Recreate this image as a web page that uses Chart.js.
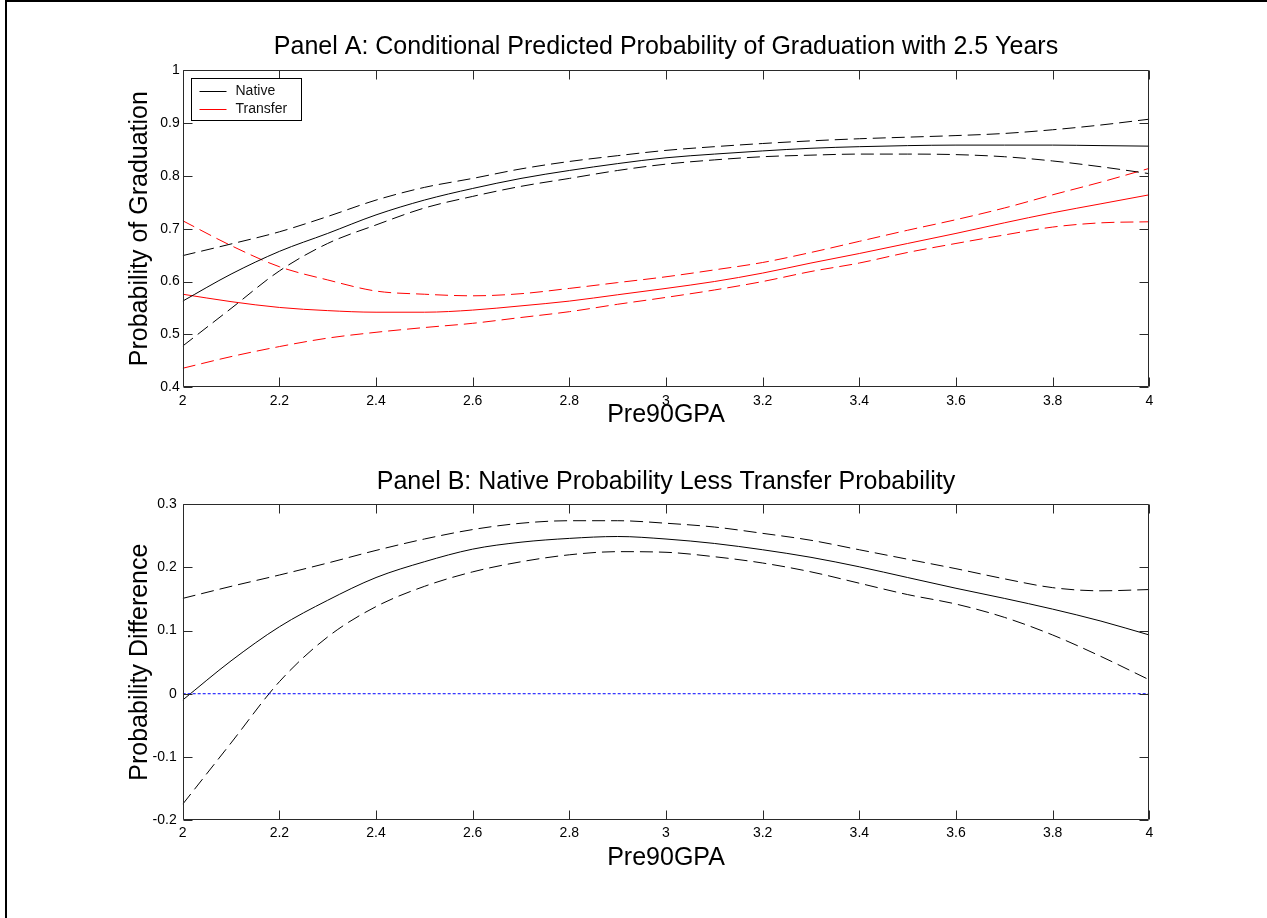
<!DOCTYPE html>
<html>
<head>
<meta charset="utf-8">
<title>Predicted Probability of Graduation</title>
<script src="https://cdn.jsdelivr.net/npm/chart.js@4.4.1/dist/chart.umd.min.js"></script>
<style>
  html, body { margin: 0; padding: 0; background: #fff; }
  body { width: 1267px; height: 918px; position: relative; overflow: hidden; }
  .frame { position: absolute; left: 5px; top: 0; width: 1300px; height: 1000px;
           border-left: 2px solid #000; border-top: 2px solid #000; }
  canvas { position: absolute; left: 0; }
  #panelA { top: 0; }
  #panelB { top: 450px; }
</style>
</head>
<body>
<div class="frame"></div>
<canvas id="panelA" width="1267" height="450"></canvas>
<canvas id="panelB" width="1267" height="468"></canvas>
<script>
// Pre90GPA grid the curves were read at
const gpa = [2.0, 2.1, 2.2, 2.3, 2.4, 2.5, 2.6, 2.7, 2.8, 2.9, 3.0, 3.1, 3.2, 3.3, 3.4, 3.5, 3.6, 3.7, 3.8, 3.9, 4.0];

// Panel A: native students
const nativeMean  = [0.563, 0.614, 0.657, 0.691, 0.726, 0.754, 0.776, 0.795, 0.810, 0.823, 0.834, 0.841, 0.847, 0.852, 0.855, 0.857, 0.858, 0.858, 0.858, 0.857, 0.856];
const nativeUpper = [0.649, 0.671, 0.694, 0.723, 0.754, 0.778, 0.795, 0.813, 0.827, 0.838, 0.848, 0.855, 0.861, 0.866, 0.870, 0.873, 0.876, 0.880, 0.887, 0.896, 0.907];
const nativeLower = [0.478, 0.549, 0.620, 0.672, 0.707, 0.739, 0.761, 0.780, 0.795, 0.810, 0.822, 0.830, 0.836, 0.839, 0.841, 0.841, 0.840, 0.836, 0.828, 0.817, 0.804];

// Panel A: transfer students
const transferMean  = [0.576, 0.562, 0.551, 0.545, 0.542, 0.542, 0.546, 0.554, 0.563, 0.575, 0.587, 0.600, 0.616, 0.635, 0.653, 0.672, 0.691, 0.711, 0.730, 0.747, 0.764];
const transferUpper = [0.715, 0.668, 0.628, 0.603, 0.582, 0.576, 0.573, 0.577, 0.587, 0.598, 0.609, 0.622, 0.636, 0.655, 0.676, 0.697, 0.717, 0.739, 0.764, 0.788, 0.814];
const transferLower = [0.436, 0.458, 0.477, 0.493, 0.504, 0.513, 0.521, 0.532, 0.543, 0.557, 0.570, 0.584, 0.600, 0.619, 0.635, 0.655, 0.672, 0.688, 0.703, 0.711, 0.713];

// Panel B: native less transfer
const diffMean  = [-0.010, 0.052, 0.106, 0.148, 0.184, 0.209, 0.229, 0.240, 0.246, 0.249, 0.245, 0.238, 0.228, 0.216, 0.201, 0.184, 0.167, 0.151, 0.134, 0.115, 0.093];
const diffUpper = [0.151, 0.170, 0.188, 0.207, 0.227, 0.245, 0.260, 0.270, 0.274, 0.274, 0.270, 0.264, 0.254, 0.243, 0.228, 0.213, 0.198, 0.182, 0.168, 0.163, 0.165];
const diffLower = [-0.175, -0.078, 0.019, 0.090, 0.138, 0.170, 0.193, 0.209, 0.220, 0.225, 0.224, 0.217, 0.207, 0.193, 0.175, 0.157, 0.142, 0.121, 0.093, 0.059, 0.022];
const zeroGpa  = [2.0, 4.0];
const zeroLine = [0, 0];

// tick labels
const xTicks  = [2, 2.2, 2.4, 2.6, 2.8, 3, 3.2, 3.4, 3.6, 3.8, 4];
const yTicksA = [0.4, 0.5, 0.6, 0.7, 0.8, 0.9, 1];
const yTicksB = [-0.2, -0.1, 0, 0.1, 0.2, 0.3];

const FONT = 'Arial, "Liberation Sans", Helvetica, sans-serif';
const DASH = [13, 6];

Chart.defaults.font.family = FONT;
Chart.defaults.color = '#111';

function pts(xs, ys) {
    return xs.map((x, i) => ({ x: x, y: ys[i] }));
}

function line(label, xs, ys, color, dashed) {
    return {
        label: label,
        data: pts(xs, ys),
        borderColor: color,
        backgroundColor: color,
        borderWidth: 1,
        borderDash: dashed ? DASH : [],
        pointRadius: 0,
        cubicInterpolationMode: 'monotone',
        fill: false
    };
}

// box round the plot with inward ticks on all four sides, MATLAB style
const boxAxes = {
    id: 'boxAxes',
    afterDatasetsDraw(chart) {
        const { ctx, chartArea: a, scales: { x, y } } = chart;
        const L = Math.round(a.left) + 0.5, R = Math.round(a.right) - 0.5;
        const T = Math.round(a.top) + 0.5, B = Math.round(a.bottom) - 0.5;
        const len = 9;
        ctx.save();
        ctx.strokeStyle = '#2a2a2a';
        ctx.lineWidth = 1;
        ctx.beginPath();
        ctx.rect(L, T, R - L, B - T);
        x.ticks.forEach(t => {
            const px = Math.round(x.getPixelForValue(t.value)) + 0.5;
            ctx.moveTo(px, B); ctx.lineTo(px, B - len);
            ctx.moveTo(px, T); ctx.lineTo(px, T + len);
        });
        y.ticks.forEach(t => {
            const py = Math.round(y.getPixelForValue(t.value)) + 0.5;
            ctx.moveTo(L, py); ctx.lineTo(L + len, py);
            ctx.moveTo(R, py); ctx.lineTo(R - len, py);
        });
        ctx.stroke();
        ctx.restore();
    }
};

// small legend box in the top-left corner of panel A
const cornerLegend = {
    id: 'cornerLegend',
    afterDraw(chart) {
        const { ctx, chartArea: a } = chart;
        const bx = Math.round(a.left + 8) + 0.5, by = Math.round(a.top + 8) + 0.5;
        const items = [['Native', '#000000'], ['Transfer', '#ff0000']];
        ctx.save();
        ctx.fillStyle = '#fff';
        ctx.fillRect(bx, by, 110, 42);
        ctx.strokeStyle = '#000';
        ctx.lineWidth = 1;
        ctx.strokeRect(bx, by, 110, 42);
        ctx.font = '14px ' + FONT;
        ctx.textBaseline = 'middle';
        items.forEach((it, i) => {
            const ly = Math.round(by + 12 + i * 18.5) + 0.5;
            ctx.strokeStyle = it[1];
            ctx.beginPath();
            ctx.moveTo(bx + 8, ly);
            ctx.lineTo(bx + 35, ly);
            ctx.stroke();
            ctx.fillStyle = '#111';
            ctx.fillText(it[0], bx + 44, ly);
        });
        ctx.restore();
    }
};

function fmt(v) {
    return String(Math.round(v * 10) / 10);
}

function panelOptions(cfg) {
    return {
        responsive: false,
        animation: false,
        layout: { padding: { left: 0, right: 117.7, top: 0, bottom: 0 } },
        plugins: {
            legend: { display: false },
            tooltip: { enabled: false },
            title: {
                display: true,
                fullSize: false,
                text: cfg.title,
                color: '#000',
                font: { size: 25, weight: 'normal', lineHeight: 1.2 },
                padding: cfg.titlePad
            }
        },
        scales: {
            x: {
                type: 'linear',
                min: 2,
                max: 4,
                grid: { display: false, drawTicks: false },
                border: { display: false },
                afterBuildTicks: s => { s.ticks = xTicks.map(v => ({ value: v })); },
                afterFit: s => { s.height = cfg.xHeight; },
                ticks: { padding: 5, maxRotation: 0, autoSkip: false, color: '#000', font: { size: 14 }, callback: v => fmt(v) },
                title: {
                    display: true,
                    text: 'Pre90GPA',
                    color: '#000',
                    font: { size: 25, lineHeight: 1.2 },
                    padding: { top: 0, bottom: cfg.xTitleBottom }
                }
            },
            y: {
                min: cfg.yMin,
                max: cfg.yMax,
                grid: { display: false, drawTicks: false },
                border: { display: false },
                afterBuildTicks: s => { s.ticks = cfg.yTicks.map(v => ({ value: v })); },
                afterFit: s => { s.width = 182.7; },
                ticks: { padding: cfg.yPad, autoSkip: false, color: '#000', font: { size: 14 }, callback: v => fmt(v) },
                title: {
                    display: true,
                    text: cfg.yTitle,
                    color: '#000',
                    font: { size: 25, lineHeight: 1.2 },
                    padding: { top: 125, bottom: 0 }
                }
            }
        }
    };
}

new Chart(document.getElementById('panelA'), {
    type: 'line',
    data: {
        datasets: [
            line('Native', gpa, nativeMean, '#000000', false),
            line('Native upper', gpa, nativeUpper, '#000000', true),
            line('Native lower', gpa, nativeLower, '#000000', true),
            line('Transfer', gpa, transferMean, '#ff0000', false),
            line('Transfer upper', gpa, transferUpper, '#ff0000', true),
            line('Transfer lower', gpa, transferLower, '#ff0000', true)
        ]
    },
    options: panelOptions({
        title: 'Panel A: Conditional Predicted Probability of Graduation with 2.5 Years',
        titlePad: { top: 32, bottom: 8 },
        xHeight: 62.7,
        xTitleBottom: 20,
        yMin: 0.4,
        yMax: 1,
        yTicks: yTicksA,
        yPad: 3,
        yTitle: 'Probability of Graduation'
    }),
    plugins: [boxAxes, cornerLegend]
});

const zeroSet = line('Zero', zeroGpa, zeroLine, '#0000ff', true);
zeroSet.borderDash = [3, 2];

new Chart(document.getElementById('panelB'), {
    type: 'line',
    data: {
        datasets: [
            zeroSet,
            line('Difference', gpa, diffMean, '#000000', false),
            line('Upper bound', gpa, diffUpper, '#000000', true),
            line('Lower bound', gpa, diffLower, '#000000', true)
        ]
    },
    options: panelOptions({
        title: 'Panel B: Native Probability Less Transfer Probability',
        titlePad: { top: 17, bottom: 7.3 },
        xHeight: 98,
        xTitleBottom: 45,
        yMin: -0.2,
        yMax: 0.3,
        yTicks: yTicksB,
        yPad: 6,
        yTitle: 'Probability Difference'
    }),
    plugins: [boxAxes]
});
</script>
</body>
</html>
